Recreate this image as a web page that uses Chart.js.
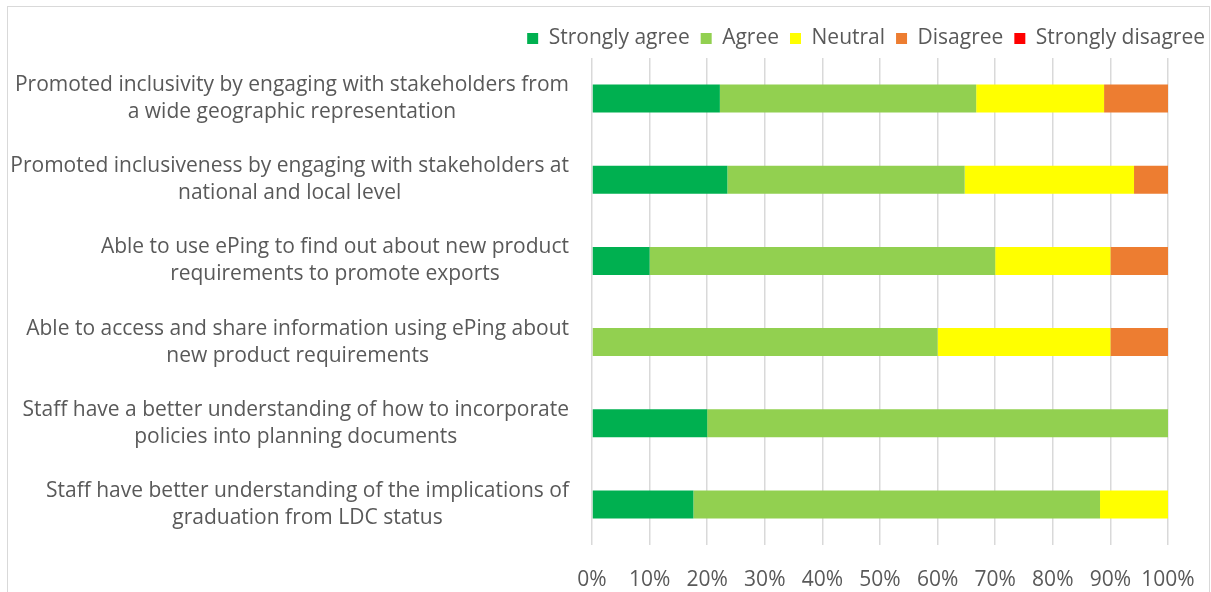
<!DOCTYPE html>
<html>
<head>
<meta charset="utf-8">
<script src="https://cdn.jsdelivr.net/npm/chart.js@4"></script>
<style>
  html, body { margin: 0; padding: 0; background: #fff; }
  #wrap { position: relative; width: 1211px; height: 592px; }
</style>
</head>
<body>
<div id="wrap"><canvas id="surveyChart" width="1211" height="592"></canvas></div>
<script>
const categories = [
    ['Promoted inclusivity by engaging with stakeholders from', 'a wide geographic representation'],
    ['Promoted inclusiveness by engaging with stakeholders at', 'national and local level'],
    ['Able to use ePing to find out about new product', 'requirements to promote exports'],
    ['Able to access and share information using ePing about', 'new product requirements'],
    ['Staff have a better understanding of how to incorporate', 'policies into planning documents'],
    ['Staff have better understanding of the implications of', 'graduation from LDC status']
];

// percentages per response
const stronglyAgree    = [22.2, 23.5, 10, 0, 20, 17.6];
const agree            = [44.5, 41.2, 60, 60, 80, 70.6];
const neutral          = [22.2, 29.4, 20, 30, 0, 11.8];
const disagree         = [11.1, 5.9, 10, 10, 0, 0];
const stronglyDisagree = [0, 0, 0, 0, 0, 0];

const xTicks = [0, 10, 20, 30, 40, 50, 60, 70, 80, 90, 100];

const FONT = "'Open Sans', sans-serif";
const TEXT = '#595959';
const GRID = '#d9d9d9';

// outer frame
const framePlugin = {
    id: 'frame',
    beforeDraw(chart) {
        const c = chart.ctx;
        c.save();
        c.fillStyle = '#fff';
        c.fillRect(0, 0, chart.width, chart.height);
        c.strokeStyle = GRID;
        c.lineWidth = 1;
        c.strokeRect(7.5, 6.5, 1202, 700);
        c.restore();
    }
};

// legend is kept compact so the plot starts right below it
const legendHeight = {
    id: 'legendHeight',
    beforeLayout(chart) {
        const lg = chart.legend;
        if (lg && !lg._fixed) {
            const fit = lg.fit;
            lg.fit = function () {
                fit.call(this);
                this.height = 41;
            };
            lg._fixed = true;
        }
    }
};

// category labels: centred lines, block right-aligned against the plot
const categoryLabels = {
    id: 'categoryLabels',
    afterDraw(chart) {
        const c = chart.ctx;
        const y = chart.scales.y;
        const right = chart.chartArea.left - 23;
        c.save();
        c.font = '21px ' + FONT;
        c.fillStyle = TEXT;
        c.textAlign = 'center';
        c.textBaseline = 'middle';
        categories.forEach((lines, i) => {
            const w = Math.max(...lines.map(l => c.measureText(l).width));
            const cx = right - w / 2;
            const cy = y.getPixelForTick(i);
            const lh = 27;
            lines.forEach((l, j) => {
                c.fillText(l, cx, cy + (j - (lines.length - 1) / 2) * lh);
            });
        });
        c.restore();
    }
};

const ctx = document.getElementById('surveyChart').getContext('2d');

new Chart(ctx, {
    type: 'bar',
    data: {
        labels: categories,
        datasets: [
            { label: 'Strongly agree', data: stronglyAgree, backgroundColor: '#00B050' },
            { label: 'Agree', data: agree, backgroundColor: '#92D050' },
            { label: 'Neutral', data: neutral, backgroundColor: '#FFFF00' },
            { label: 'Disagree', data: disagree, backgroundColor: '#ED7D31' },
            { label: 'Strongly disagree', data: stronglyDisagree, backgroundColor: '#FF0000' }
        ]
    },
    options: {
        indexAxis: 'y',
        responsive: false,
        animation: false,
        datasets: {
            bar: { barPercentage: 0.345, categoryPercentage: 1, borderWidth: 0 }
        },
        layout: { padding: { left: 7, right: -5, top: 17, bottom: 0 } },
        plugins: {
            legend: {
                position: 'top',
                align: 'end',
                labels: {
                    boxWidth: 11,
                    boxHeight: 11,
                    padding: 11,
                    color: TEXT,
                    font: { family: FONT, size: 21 }
                }
            },
            tooltip: { enabled: false }
        },
        scales: {
            x: {
                stacked: true,
                min: 0,
                max: 100,
                afterBuildTicks: (s) => { s.ticks = xTicks.map(v => ({ value: v })); },
                afterFit: (s) => { s.height = 47; s.paddingRight = 43; s.paddingLeft = 0; },
                border: { display: false },
                grid: { color: GRID, lineWidth: 1.5, drawTicks: false },
                ticks: {
                    padding: 22,
                    color: TEXT,
                    font: { family: FONT, size: 21 },
                    maxRotation: 0,
                    callback: (v) => v + '%'
                }
            },
            y: {
                stacked: true,
                afterFit: (s) => { s.width = 585; },
                border: { display: false },
                grid: { display: false },
                ticks: { display: false }
            }
        }
    },
    plugins: [framePlugin, legendHeight, categoryLabels]
});
</script>
</body>
</html>
